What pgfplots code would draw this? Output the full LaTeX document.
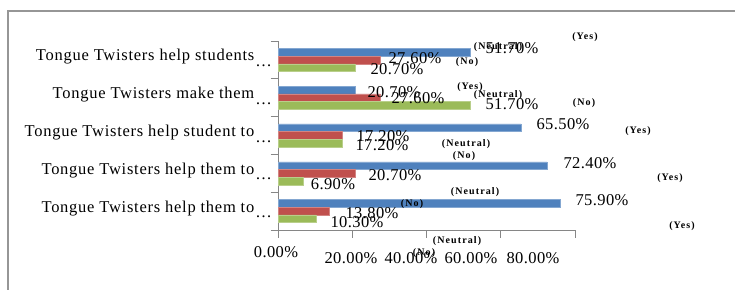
\documentclass[border=0pt]{standalone}
\usepackage{fontspec}
\setmainfont{Liberation Serif}[LetterSpace=2.5]
\usepackage{pgfplots}
\pgfplotsset{compat=1.18}
\definecolor{sblue}{RGB}{79,129,189}
\definecolor{sred}{RGB}{192,80,77}
\definecolor{sgreen}{RGB}{155,187,89}
\definecolor{axgray}{RGB}{134,134,134}
\definecolor{framegray}{RGB}{150,150,150}
\newcommand\cl[1]{#1\kern1pt\raisebox{-5.5pt}{\ldots}}
\newcommand\bl[3]{\node[anchor=base, inner sep=0pt, font=\fontsize{16.5}{18}\selectfont] at ({#1},{-(#2)-5.5}) {#3};}
\newcommand\sm[3]{\node[inner sep=0pt, font=\fontsize{10}{11}\selectfont\bfseries\addfontfeature{LetterSpace=11}] at ({#1},{-(#2)}) {#3};}
\begin{document}
\begin{tikzpicture}[x=1pt,y=1pt]
\useasboundingbox (0,0) rectangle (735,-289);
\draw[framegray, line width=1.2pt] (8,-295) -- (8,-11) -- (740,-11);
\begin{axis}[
  at={(278pt,-230pt)}, anchor=south west,
  scale only axis, width=297pt, height=189pt,
  xmin=0, xmax=80, ymin=-0.5, ymax=4.5,
  xbar, bar width=7.7pt,
  axis x line=bottom, axis y line=left,
  axis line style={-, draw=axgray, line width=1pt},
  tick align=outside,
  xtick={0,20,40,60,80}, xticklabels={},
  ytick={-0.5,0.5,1.5,2.5,3.5,4.5}, yticklabels={},
  major tick length=7.5pt,
  tick style={draw=axgray, line width=1pt},
  extra y ticks={0,1,2,3,4},
  extra y tick labels={\cl{Tongue Twisters help them to},\cl{Tongue Twisters help them to},\cl{Tongue Twisters help student to},\cl{Tongue Twisters make them},\cl{Tongue Twisters help students}},
  extra y tick style={major tick length=0pt, yticklabel style={anchor=base east, inner sep=0pt, xshift=-6pt, yshift=-1pt, font=\fontsize{16.5}{18}\selectfont\addfontfeature{LetterSpace=4.5}}},
]
\addplot[fill=sblue, draw=sblue!70!white, line width=0.4pt, bar shift=7.7pt] coordinates {(75.9,0) (72.4,1) (65.5,2) (20.7,3) (51.7,4)};
\addplot[fill=sred, draw=sred!70!white, line width=0.4pt, bar shift=0pt] coordinates {(13.8,0) (20.7,1) (17.2,2) (27.6,3) (27.6,4)};
\addplot[fill=sgreen, draw=sgreen!70!white, line width=0.4pt, bar shift=-7.7pt] coordinates {(10.3,0) (6.9,1) (17.2,2) (51.7,3) (20.7,4)};
\end{axis}
% x tick labels
\bl{276}{252}{0.00\%}
\bl{351}{258}{20.00\%}
\bl{411}{258}{40.00\%}
\bl{471}{258}{60.00\%}
\bl{533}{258}{80.00\%}
% small labels
\sm{498}{47}{(Neutral)}
\sm{585}{37}{(Yes)}
\sm{467}{62}{(No)}
\sm{470}{87}{(Yes)}
\sm{498}{95}{(Neutral)}
\sm{584}{103}{(No)}
\sm{638}{131}{(Yes)}
\sm{466}{144}{(Neutral)}
\sm{464}{156}{(No)}
\sm{670}{178}{(Yes)}
\sm{475}{192}{(Neutral)}
\sm{412}{204}{(No)}
\sm{682}{226}{(Yes)}
\sm{457}{241}{(Neutral)}
\sm{424}{253}{(No)}
% data labels
\bl{512}{48}{51.70\%}
\bl{415}{58}{27.60\%}
\bl{397}{69}{20.70\%}
\bl{394}{92}{20.70\%}
\bl{418}{98}{27.60\%}
\bl{512}{104}{51.70\%}
\bl{563}{124}{65.50\%}
\bl{383}{136}{17.20\%}
\bl{382}{145}{17.20\%}
\bl{590}{163}{72.40\%}
\bl{395}{175}{20.70\%}
\bl{333}{184}{6.90\%}
\bl{602}{200}{75.90\%}
\bl{372}{213}{13.80\%}
\bl{357}{222}{10.30\%}
\end{tikzpicture}
\end{document}
